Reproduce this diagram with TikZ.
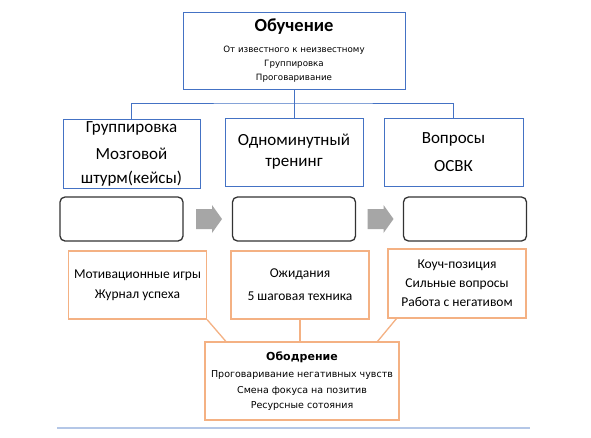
\documentclass[tikz,border=0pt]{standalone}
\usepackage{fontspec}
\setmainfont{Carlito}
\newfontfamily\gothicfont{DejaVu Sans}
\usetikzlibrary{calc}
\definecolor{boxblue}{RGB}{68,114,196}
\definecolor{boxorange}{RGB}{244,177,131}
\definecolor{arrowgray}{RGB}{166,166,166}
\definecolor{rulegray}{RGB}{180,199,231}
\tikzset{
  bluebox/.style={draw=boxblue,line width=0.8pt,fill=white,align=center,inner sep=0pt},
  orangebox/.style={draw=boxorange,line width=1.3pt,fill=white,align=center,inner sep=0pt,
    minimum width=138pt,minimum height=68pt},
  stagebox/.style={draw=black!80,line width=1.3pt,rounded corners=5pt,
    minimum width=123pt,minimum height=44pt},
  stagearrow/.pic={\fill[arrowgray] (-13,-10) -- (3,-10) -- (3,-14) -- (13,0)
    -- (3,14) -- (3,10) -- (-13,10) -- cycle;},
  bluelink/.style={draw=boxblue,line width=0.8pt},
  orangelink/.style={draw=boxorange,line width=1.3pt},
}
\begin{document}
\begin{tikzpicture}[x=1pt,y=-1pt]
% ==========================================
\useasboundingbox[fill=white] (0,0) rectangle (591,437);
%
% top box
\node[bluebox,minimum width=222pt,minimum height=77pt,
  font=\gothicfont\fontsize{8.7}{14}\selectfont] (teach) at (294,50.5)
  {{\fontsize{18.5}{18.5}\selectfont\bfseries\rmfamily Обучение}\\[7pt]
   От известного к неизвестному\\Группировка\\Проговаривание};
%
% second row
\node[bluebox,minimum width=137pt,minimum height=69pt,
  font=\fontsize{17}{24}\selectfont] (group) at (131.5,153.5)
  {Группировка\\[3pt]Мозговой\\штурм(кейсы)};
\node[bluebox,minimum width=138pt,minimum height=68pt,
  font=\fontsize{17}{21}\selectfont] (minute) at (294,152)
  {Одноминутный\\тренинг};
\node[bluebox,minimum width=139pt,minimum height=68pt,
  font=\fontsize{17}{28}\selectfont] (quest) at (453.5,152)
  {Вопросы\\ОСВК};
%
\coordinate (hub) at (294,103);
\draw[bluelink] (teach.south) -- (minute.north);
\draw[bluelink] (group.north) |- (hub) -| (quest.north);
%
% empty stages with block arrows
\node[stagebox] (stageA) at (121.5,219) {};
\node[stagebox] (stageB) at (294,219) {};
\node[stagebox] (stageC) at (465,219) {};
\pic at (209,219) {stagearrow};
\pic at (380.5,219) {stagearrow};
%
% orange boxes
\node[orangebox,font=\fontsize{13.5}{20}\selectfont] (motiv) at (137.5,285)
  {Мотивационные игры\\Журнал успеха};
\node[orangebox,font=\fontsize{13.5}{23}\selectfont] (expect) at (300,285)
  {Ожидания\\5 шаговая техника};
\node[orangebox,minimum height=69pt,font=\fontsize{13.5}{19}\selectfont] (coach) at (457,283.5)
  {Коуч-позиция\\Сильные вопросы\\Работа с негативом};
%
% bottom box
\node[orangebox,minimum width=194pt,minimum height=78pt,
  font=\gothicfont\fontsize{9.5}{15.5}\selectfont] (cheer) at (302,381)
  {{\fontsize{11}{11}\selectfont\bfseries Ободрение}\\[2pt]
   Проговаривание негативных чувств\\Смена фокуса на позитив\\Ресурсные сотояния};
%
\draw[orangelink] (motiv.south east) -- ($(cheer.north west)!0.11!(cheer.north east)$);
\draw[orangelink] (expect.south) -- (expect.south |- cheer.north);
\draw[orangelink] ($(coach.south west)!0.065!(coach.south east)$)
  -- ($(cheer.north west)!0.887!(cheer.north east)$);
%
% base rule
\draw[rulegray,line width=1.5pt] (57,428) -- (530,428);
% =============================================
\end{tikzpicture}
\end{document}
